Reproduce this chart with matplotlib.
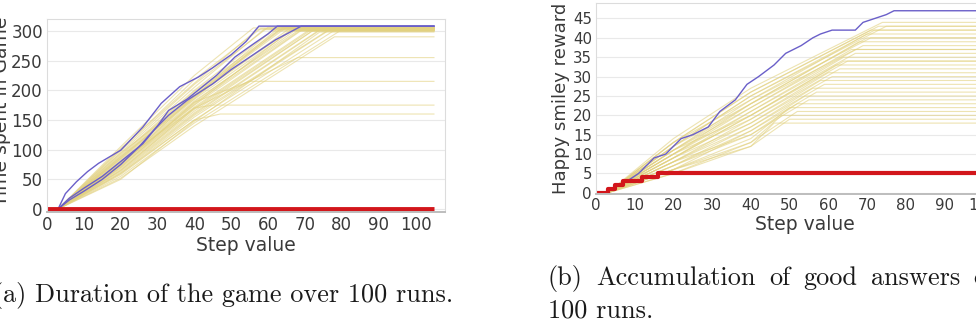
import matplotlib.pyplot as plt

# ---- (a) time spent in game ----
# yellow runs: value at step 20, value at step 40, step where it stops, final value
runs_a = [
    (105, 225, 56, 305), (100, 218, 58, 304), (98, 210, 60, 306), (95, 205, 59, 303),
    (92, 200, 62, 305), (90, 198, 63, 302), (88, 195, 64, 304), (86, 192, 65, 306),
    (85, 190, 66, 301), (84, 188, 66, 305), (82, 185, 67, 303), (80, 182, 68, 300),
    (78, 180, 68, 304), (76, 178, 69, 302), (75, 175, 70, 305), (73, 172, 71, 301),
    (72, 170, 72, 303), (70, 168, 72, 300), (68, 165, 73, 304), (66, 162, 74, 302),
    (64, 160, 75, 305), (62, 158, 76, 300), (60, 155, 77, 303), (58, 150, 78, 301),
    (55, 145, 80, 302), (52, 140, 78, 290), (65, 170, 68, 255), (70, 180, 55, 215),
    (80, 170, 45, 175), (60, 150, 47, 160), (94, 190, 61, 300), (88, 186, 63, 306),
    (77, 176, 66, 300), (50, 148, 74, 298), (102, 212, 57, 302), (74, 190, 64, 306),
]
blue_a = [
    ([3, 5, 8, 11, 14, 20, 26, 31, 36, 41, 45, 50, 54, 57.5, 105],
     [0, 26, 46, 63, 77, 99, 138, 178, 206, 222, 238, 260, 282, 308, 308]),
    ([3, 6, 10, 15, 20, 26, 30, 33, 38, 42, 46, 51, 56, 60, 62.5, 105],
     [0, 18, 35, 55, 80, 110, 140, 166, 185, 205, 225, 256, 278, 295, 308, 308]),
    ([3, 6, 10, 15, 20, 25, 29, 33, 38, 45, 50, 56, 62, 66, 69, 105],
     [0, 15, 30, 50, 75, 105, 133, 158, 183, 211, 235, 260, 285, 298, 308, 308]),
]
red_a_x = [0, 105]
red_a_y = [0, 0]

# ---- (b) happy smiley reward ----
runs_b = [
    (14, 27, 74, 44), (13, 26, 73, 43), (12, 25, 72, 42), (13, 24, 70, 41),
    (11, 24, 71, 40), (12, 23, 68, 39), (10, 22, 69, 38), (11, 22, 66, 37),
    (10, 21, 67, 36), (9, 21, 64, 35), (11, 20, 65, 34), (9, 20, 62, 33),
    (8, 19, 63, 32), (10, 19, 60, 31), (8, 18, 61, 30), (9, 18, 58, 29),
    (7, 17, 59, 28), (8, 17, 56, 27), (7, 16, 57, 26), (6, 16, 54, 25),
    (8, 15, 55, 24), (7, 15, 52, 23), (6, 14, 50, 22), (5, 13, 52, 21),
    (6, 13, 48, 20), (5, 12, 50, 19), (6, 12, 46, 18), (12, 25, 75, 43),
    (10, 23, 70, 40), (9, 20, 64, 34), (13, 26, 71, 42), (11, 23, 67, 37),
]
blue_b_x = [0, 2, 4, 8, 11, 15, 18, 22, 25, 29, 32, 36, 39, 42, 46, 49, 53, 56, 58, 61, 63, 67, 69, 72, 75, 77, 108]
blue_b_y = [0, 0, 1, 3, 5, 9, 10, 14, 15, 17, 21, 24, 28, 30, 33, 36, 38, 40, 41, 42, 42, 42, 44, 45, 46, 47, 47]
red_b_x = [0, 3, 5, 7, 12, 16, 108]
red_b_y = [0, 1, 2, 3, 4, 5, 5]

caption_a = '(a) Duration of the game over 100 runs.'
caption_b1 = ['(b)', 'Accumulation', 'of', 'good', 'answers', 'over']
caption_b2 = '100 runs.'

yellow = '#e2d17f'
blue = '#6a5fc9'
red = '#d2161b'
gray_txt = '#3a3a3a'

fig = plt.figure(figsize=(9.76, 3.21), dpi=100)
ax1 = fig.add_axes([47/976, 1 - 212/321, 398/976, 193/321])
ax2 = fig.add_axes([596/976, 1 - 194/321, 418/976, 191/321])


def style(ax, fs):
    for s in ax.spines.values():
        s.set_color('#dcdcdc')
        s.set_linewidth(0.8)
    ax.spines['bottom'].set_color('#bdbdbd')
    ax.spines['bottom'].set_linewidth(1.4)
    ax.grid(axis='y', color='#e9e9e9', lw=0.8)
    ax.set_axisbelow(True)
    ax.tick_params(length=0, pad=3, labelsize=fs, labelcolor=gray_txt)
    ax.set_xlabel('Step value', fontsize=13.5, color=gray_txt, labelpad=1)


for v20, v40, end, final in runs_a:
    ax1.plot([3, 20, 40, end, 105], [0, v20, v40, final, final], color=yellow, lw=0.8, alpha=0.6)
for xs, ys in blue_a:
    ax1.plot(xs, ys, color=blue, lw=1.0)
ax1.plot(red_a_x, red_a_y, color=red, lw=3.5, solid_capstyle='butt')
ax1.set_xlim(0, 108)
ax1.set_ylim(-5, 320)
ax1.set_xticks(range(0, 101, 10))
ax1.set_yticks(range(0, 301, 50))
style(ax1, 12)
ax1.set_ylabel('Time spent in Game', fontsize=13.5, color=gray_txt)
ax1.yaxis.set_label_coords(-0.09, 0.52)

for v20, v40, end, final in runs_b:
    ax2.plot([3, 20, 40, end, 108], [0, v20, v40, final, final], color=yellow, lw=0.8, alpha=0.6)
ax2.plot(blue_b_x, blue_b_y, color=blue, lw=1.0)
ax2.plot(red_b_x, red_b_y, color=red, lw=3.0, drawstyle='steps-post')
ax2.set_xlim(0, 108)
ax2.set_ylim(-0.3, 49)
ax2.set_xticks(range(0, 101, 10))
ax2.set_yticks(range(0, 46, 5))
style(ax2, 10.8)
ax2.set_ylabel('Happy smiley reward', fontsize=13, color=gray_txt)
ax2.yaxis.set_label_coords(-0.062, 0.5)

# captions (LaTeX-like serif); first line of (b) is justified in the source
cap = dict(family='cmr10', fontsize=18.9, color='#1a1a1a', va='baseline')
fig.text(453/976, 1 - 302/321, caption_a, ha='right', **cap)

# justify line 1 of (b): "(b)" starts at 548 px, "answers" ends at 960 px
renderer = fig.canvas.get_renderer()
words = [fig.text(0, 1 - 285/321, w, ha='left', **cap) for w in caption_b1]
widths = [t.get_window_extent(renderer).width for t in words]
gap = (960 - 548 - sum(widths[:5])) / 4
px = 548
for t, w in zip(words, widths):
    t.set_x(px / 976)
    px += w + gap
fig.text(548/976, 1 - 317/321, caption_b2, ha='left', **cap)

fig.savefig('out.png', dpi=100)
